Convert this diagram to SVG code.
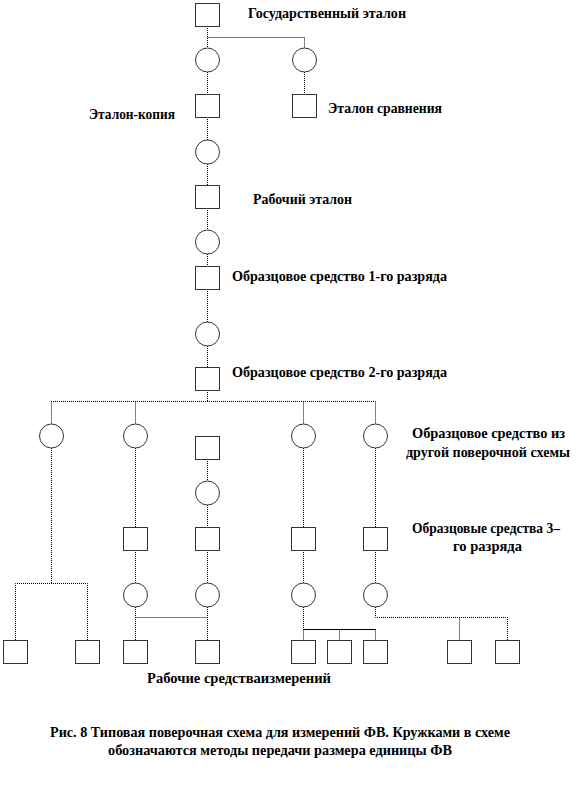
<svg xmlns="http://www.w3.org/2000/svg" width="582" height="786" viewBox="0 0 582 786">
<style>
.sq{fill:#fff;stroke:#333;stroke-width:1}
.ci{fill:#fff;stroke:#333;stroke-width:1}
.ln{fill:none;stroke:#000;stroke-width:1;stroke-dasharray:1 1}
.sl{fill:none;stroke:#000;stroke-width:1.2}
text{font-family:'Liberation Serif','DejaVu Serif',serif;font-weight:bold;font-size:14px;fill:#000}
</style>
<rect width="582" height="786" fill="#fff"/>
<g id="connectors">
<path class="ln" d="M207.5 26V48M207.5 37.5H304.5V48M207.5 72V94M304.5 72V94M207.5 117V140M207.5 164V185M207.5 208V230M207.5 254V266M207.5 289V322M207.5 346V367M207.5 390V401.5"/>
<path class="ln" d="M51 401.5H375.5M51.5 401.5V424M135.5 401.5V424M303.5 401.5V424M375.5 401.5V424"/>
<path class="ln" d="M135.5 448V527M303.5 448V527M375.5 448V527M207.5 459V481M207.5 505V527"/>
<path class="ln" d="M51.5 448V583.5M15.5 640V583.5H87.5V640"/>
<path class="ln" d="M135.5 550V583M207.5 550V583M303.5 550V583M375.5 550V583"/>
<path class="ln" d="M135.5 607V640M207.5 607V640M135.5 617.5H207.5"/>
<path class="ln" d="M303.5 607V629M303.5 629.5V640M339.5 629.5V640M375.5 629.5V640"/>
<path class="sl" d="M303 629.5H376"/>
<path class="ln" d="M375.5 607V617.5H507.5V640M459.5 617.5V640"/>
</g>
<g id="gos"><rect class="sq" x="195.5" y="3.5" width="24" height="23"/><text font-family="Liberation Serif" x="248" y="18" textLength="158" lengthAdjust="spacingAndGlyphs">Государственный эталон</text></g>
<g id="c1"><circle class="ci" cx="207.5" cy="60" r="12"/></g>
<g id="c2"><circle class="ci" cx="304.5" cy="60" r="12"/></g>
<g id="kopiya"><rect class="sq" x="195.5" y="94.5" width="24" height="23"/><text font-family="Liberation Serif" x="89" y="119" textLength="86" lengthAdjust="spacingAndGlyphs">Эталон-копия</text></g>
<g id="sravn"><rect class="sq" x="292.5" y="94.5" width="24" height="23"/><text font-family="Liberation Serif" x="328" y="113" textLength="114" lengthAdjust="spacingAndGlyphs">Эталон сравнения</text></g>
<g id="c3"><circle class="ci" cx="207.5" cy="152" r="12"/></g>
<g id="rab"><rect class="sq" x="195.5" y="185.5" width="24" height="23"/><text font-family="Liberation Serif" x="253" y="204" textLength="99" lengthAdjust="spacingAndGlyphs">Рабочий эталон</text></g>
<g id="c4"><circle class="ci" cx="207.5" cy="242" r="12"/></g>
<g id="obr1"><rect class="sq" x="195.5" y="266.5" width="24" height="23"/><text font-family="Liberation Serif" x="232" y="281" textLength="215" lengthAdjust="spacingAndGlyphs">Образцовое средство 1-го разряда</text></g>
<g id="c5"><circle class="ci" cx="207.5" cy="334" r="12"/></g>
<g id="obr2"><rect class="sq" x="195.5" y="367.5" width="24" height="23"/><text font-family="Liberation Serif" x="232" y="377" textLength="215" lengthAdjust="spacingAndGlyphs">Образцовое средство 2-го разряда</text></g>
<g id="c6"><circle class="ci" cx="51.5" cy="436" r="12"/></g>
<g id="c7"><circle class="ci" cx="135.5" cy="436" r="12"/></g>
<g id="c8"><circle class="ci" cx="303.5" cy="436" r="12"/></g>
<g id="c9"><circle class="ci" cx="375.5" cy="436" r="12"/></g>
<g id="other"><rect class="sq" x="195.5" y="436.5" width="24" height="23"/><text font-family="Liberation Serif" x="412" y="438" textLength="153" lengthAdjust="spacingAndGlyphs">Образцовое средство из</text><text font-family="Liberation Serif" x="406" y="457" textLength="164" lengthAdjust="spacingAndGlyphs">другой поверочной  схемы</text></g>
<g id="c10"><circle class="ci" cx="207.5" cy="493" r="12"/></g>
<g id="s3a"><rect class="sq" x="123.5" y="527.5" width="24" height="23"/></g>
<g id="s3b"><rect class="sq" x="195.5" y="527.5" width="24" height="23"/></g>
<g id="s3c"><rect class="sq" x="291.5" y="527.5" width="24" height="23"/></g>
<g id="s3d"><rect class="sq" x="363.5" y="527.5" width="24" height="23"/><text font-family="Liberation Serif" x="412" y="533" textLength="148" lengthAdjust="spacingAndGlyphs">Образцовые средства 3–</text><text font-family="Liberation Serif" x="453" y="551" textLength="69" lengthAdjust="spacingAndGlyphs">го разряда</text></g>
<g id="c11"><circle class="ci" cx="135.5" cy="595" r="12"/></g>
<g id="c12"><circle class="ci" cx="207.5" cy="595" r="12"/></g>
<g id="c13"><circle class="ci" cx="303.5" cy="595" r="12"/></g>
<g id="c14"><circle class="ci" cx="375.5" cy="595" r="12"/></g>
<g id="w1"><rect class="sq" x="3.5" y="640.5" width="24" height="23"/></g>
<g id="w2"><rect class="sq" x="75.5" y="640.5" width="24" height="23"/></g>
<g id="w3"><rect class="sq" x="123.5" y="640.5" width="24" height="23"/></g>
<g id="w4"><rect class="sq" x="195.5" y="640.5" width="24" height="23"/></g>
<g id="w5"><rect class="sq" x="291.5" y="640.5" width="24" height="23"/></g>
<g id="w6"><rect class="sq" x="327.5" y="640.5" width="24" height="23"/></g>
<g id="w7"><rect class="sq" x="363.5" y="640.5" width="24" height="23"/></g>
<g id="w8"><rect class="sq" x="447.5" y="640.5" width="24" height="23"/></g>
<g id="w9"><rect class="sq" x="495.5" y="640.5" width="24" height="23"/></g>
<g id="labels"><text font-family="Liberation Serif" x="147" y="683" textLength="184" lengthAdjust="spacingAndGlyphs">Рабочие средстваизмерений</text>
<text font-family="Liberation Serif" x="50" y="737" textLength="460" lengthAdjust="spacingAndGlyphs">Рис. 8 Типовая поверочная схема для измерений ФВ. Кружками в схеме</text>
<text font-family="Liberation Serif" x="108" y="755" textLength="344" lengthAdjust="spacingAndGlyphs">обозначаются методы передачи размера единицы ФВ</text></g>
</svg>
